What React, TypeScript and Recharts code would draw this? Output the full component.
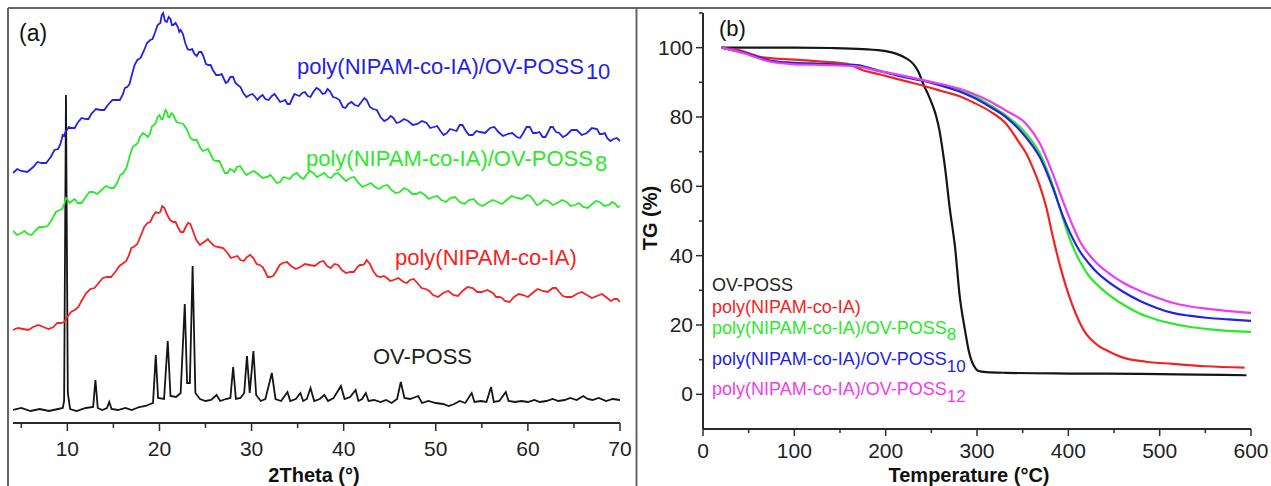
import React from 'react';
import { LineChart, Line, XAxis, YAxis } from 'recharts';

// XRD patterns, panel (a): [2theta, intensity (a.u., curves stacked)]
const xrdOvPoss: [number, number][] = [
  [4.1, 13], [5, 15], [6, 12], [7, 14], [8, 12], [9, 14], [9.5, 15], [9.65, 22], [9.85, 328], [10.05, 30], [10.3, 14],
  [11, 12], [12, 15], [12.8, 16], [13.05, 43], [13.3, 15], [13.8, 13], [14.3, 15], [14.55, 21], [14.8, 14], [15.5, 13],
  [16.3, 15], [17, 13], [17.8, 16], [18.5, 17], [19.0, 19], [19.3, 20], [19.6, 68], [19.85, 25], [20.5, 24], [20.9, 82],
  [21.2, 27], [21.8, 26], [22.3, 30], [22.75, 119], [23.0, 40], [23.3, 40], [23.6, 157], [23.9, 30], [24.4, 24],
  [25, 22], [25.6, 23], [26.2, 28], [26.6, 22], [27.2, 24], [27.7, 25], [28.0, 56], [28.3, 24], [28.8, 25], [29.2, 30],
  [29.5, 67], [29.8, 30], [30.2, 72], [30.5, 28], [31, 22], [31.5, 24], [32.2, 50], [32.6, 24], [33.2, 22], [33.9, 31],
  [34.2, 22], [34.8, 24], [35.3, 30], [35.6, 22], [36.0, 24], [36.4, 35], [36.8, 22], [37.4, 24], [37.9, 28], [38.3, 22],
  [38.9, 25], [39.7, 37], [40.1, 24], [40.7, 26], [41.3, 33], [41.6, 22], [42.0, 24], [42.4, 30], [42.7, 22], [43.3, 23],
  [44, 21], [44.6, 23], [45.2, 20], [45.8, 24], [46.2, 41], [46.6, 25], [47.2, 24], [48.1, 27], [48.5, 20], [49.2, 22],
  [50, 20], [50.8, 19], [51.4, 17], [52, 19], [52.6, 22], [53.2, 20], [53.9, 30], [54.2, 21], [54.9, 22], [55.5, 21],
  [56, 36], [56.3, 21], [56.9, 22], [57.6, 31], [57.9, 22], [58.6, 21], [59.3, 22], [60, 21], [60.7, 23], [61.3, 21],
  [62, 22], [62.7, 24], [63.3, 22], [64, 23], [64.6, 25], [65.3, 23], [66, 27], [66.5, 24], [67, 23], [67.7, 25],
  [68.5, 22], [69.2, 24], [70, 23],
];

const xrdCopolymer: [number, number][] = [
  [4.1, 93], [4.65, 95], [5.2, 94], [5.75, 93], [6.3, 96], [6.85, 98], [7.4, 96], [7.95, 94], [8.5, 96], [8.9, 100],
  [9.3, 100], [9.65, 101], [10.0, 106], [10.4, 111], [10.8, 113], [11.2, 116], [11.6, 123], [12.05, 130], [12.5, 134],
  [12.95, 135], [13.4, 140], [13.85, 145], [14.3, 146], [14.75, 146], [15.2, 151], [15.65, 157], [16.1, 160],
  [16.4, 162], [16.7, 168], [16.95, 175], [17.2, 176], [17.6, 179], [18.0, 188], [18.35, 196], [18.7, 200], [19.0, 201],
  [19.3, 207], [19.6, 211], [19.9, 210], [20.1, 211], [20.3, 217], [20.55, 215], [20.8, 209], [21.15, 203], [21.5, 201],
  [21.75, 201], [22.0, 196], [22.3, 191], [22.6, 191], [22.85, 196], [23.1, 200], [23.35, 199], [23.6, 193], [24.0, 183],
  [24.4, 178], [24.7, 180], [25.0, 182], [25.25, 184], [25.5, 181], [25.95, 177], [26.4, 176], [26.9, 175], [27.4, 170],
  [27.75, 165], [28.1, 166], [28.45, 167], [28.8, 163], [29.15, 162], [29.5, 166], [29.85, 168], [30.2, 165],
  [30.55, 159], [30.9, 158], [31.2, 156], [31.5, 151], [31.75, 146], [32.0, 146], [32.35, 147], [32.7, 152],
  [33.05, 158], [33.4, 160], [33.85, 161], [34.3, 157], [34.8, 154], [35.3, 156], [35.8, 159], [36.3, 158],
  [36.85, 157], [37.4, 161], [37.8, 162], [38.2, 157], [38.6, 155], [39.0, 159], [39.4, 158], [39.8, 153], [40.25, 150],
  [40.7, 151], [41.1, 151], [41.5, 156], [41.75, 158], [42.0, 158], [42.25, 159], [42.5, 163], [42.85, 159], [43.2, 152],
  [43.6, 147], [44.0, 146], [44.35, 147], [44.7, 145], [45.05, 142], [45.4, 143], [45.95, 145], [46.5, 141],
  [46.85, 140], [47.2, 143], [47.6, 144], [48.0, 140], [48.45, 135], [48.9, 134], [49.3, 132], [49.7, 128],
  [50.25, 126], [50.8, 130], [51.35, 132], [51.9, 128], [52.4, 127], [52.9, 132], [53.45, 136], [54.0, 135],
  [54.5, 131], [55.0, 131], [55.6, 133], [56.2, 130], [56.55, 126], [56.9, 126], [57.2, 125], [57.5, 122], [58.0, 121],
  [58.5, 126], [59.0, 129], [59.5, 128], [60.0, 126], [60.5, 130], [61.05, 134], [61.6, 132], [62.15, 131], [62.7, 135],
  [63.05, 135], [63.4, 131], [63.8, 127], [64.2, 126], [64.75, 126], [65.3, 129], [65.85, 131], [66.4, 128],
  [66.95, 125], [67.5, 127], [68.05, 129], [68.6, 125], [69.0, 122], [69.4, 124], [69.7, 124], [70, 121],
];

const xrdPoss8: [number, number][] = [
  [4.1, 192], [4.55, 188], [5.0, 190], [5.35, 192], [5.7, 189], [6.1, 188], [6.5, 192], [6.95, 196], [7.4, 196],
  [7.85, 197], [8.3, 203], [8.75, 211], [9.2, 213], [9.45, 214], [9.7, 220], [9.85, 225], [10.0, 224], [10.25, 220],
  [10.5, 222], [10.8, 224], [11.1, 220], [11.55, 220], [12.0, 226], [12.4, 231], [12.8, 231], [13.25, 229], [13.7, 233],
  [14.2, 237], [14.7, 235], [15.05, 235], [15.4, 240], [15.75, 248], [16.1, 250], [16.45, 256], [16.8, 268], [17.1, 276],
  [17.4, 278], [17.65, 280], [17.9, 286], [18.2, 290], [18.5, 288], [18.75, 286], [19.0, 290], [19.2, 297], [19.4, 298],
  [19.6, 300], [19.8, 306], [20.0, 308], [20.2, 304], [20.35, 304], [20.5, 309], [20.65, 313], [20.8, 311], [20.95, 306],
  [21.1, 306], [21.3, 310], [21.5, 308], [21.85, 301], [22.2, 300], [22.6, 299], [23.0, 293], [23.35, 285], [23.7, 283],
  [24.05, 283], [24.4, 276], [24.7, 272], [25.0, 273], [25.25, 274], [25.5, 270], [25.85, 263], [26.2, 262], [26.5, 262],
  [26.8, 256], [27.1, 250], [27.4, 250], [27.65, 254], [27.9, 253], [28.15, 251], [28.4, 256], [28.75, 257], [29.1, 252],
  [29.45, 248], [29.8, 250], [30.25, 252], [30.7, 249], [31.2, 245], [31.7, 246], [32.05, 248], [32.4, 244], [32.75, 240],
  [33.1, 241], [33.45, 246], [33.8, 245], [34.15, 244], [34.5, 248], [34.9, 250], [35.3, 246], [35.65, 244], [36.0, 249],
  [36.35, 252], [36.7, 250], [37.1, 246], [37.5, 248], [37.9, 250], [38.3, 246], [38.65, 245], [39.0, 249], [39.4, 250],
  [39.8, 246], [40.25, 242], [40.7, 245], [41.15, 246], [41.6, 240], [42.05, 236], [42.5, 238], [42.95, 240], [43.4, 236],
  [43.85, 234], [44.3, 237], [44.75, 238], [45.2, 233], [45.65, 230], [46.1, 231], [46.55, 235], [47.0, 233], [47.45, 229],
  [47.9, 229], [48.35, 231], [48.8, 228], [49.25, 224], [49.7, 226], [50.15, 227], [50.6, 223], [51.1, 221], [51.6, 225],
  [52.1, 226], [52.6, 221], [53.1, 219], [53.6, 223], [54.1, 224], [54.6, 219], [55.1, 217], [55.6, 220], [56.15, 223],
  [56.7, 221], [57.2, 219], [57.7, 223], [58.25, 227], [58.8, 225], [59.35, 224], [59.9, 228], [60.25, 227], [60.6, 223],
  [60.95, 218], [61.3, 219], [61.75, 223], [62.2, 222], [62.7, 218], [63.2, 220], [63.7, 223], [64.2, 221], [64.65, 217],
  [65.1, 218], [65.55, 220], [66.0, 216], [66.5, 215], [67.0, 219], [67.4, 222], [67.8, 221], [68.3, 217], [68.8, 218],
  [69.15, 221], [69.5, 219], [69.75, 216], [70, 217],
];

const xrdPoss10: [number, number][] = [
  [4.1, 250], [4.55, 254], [5.0, 252], [5.65, 251], [6.3, 256], [6.75, 261], [7.2, 260], [7.7, 260], [8.2, 266],
  [8.6, 273], [9.0, 274], [9.25, 279], [9.5, 288], [9.65, 287], [9.8, 291], [10.15, 296], [10.5, 295], [10.8, 295],
  [11.1, 300], [11.55, 305], [12.0, 304], [12.3, 304], [12.6, 309], [13.1, 314], [13.6, 313], [14.0, 313], [14.4, 318],
  [14.9, 323], [15.4, 323], [15.7, 323], [16.0, 328], [16.25, 335], [16.5, 336], [16.75, 339], [17.0, 348], [17.3, 358],
  [17.6, 363], [17.95, 365], [18.3, 372], [18.65, 380], [19.0, 383], [19.25, 384], [19.5, 390], [19.8, 398], [20.1, 400],
  [20.25, 408], [20.4, 410], [20.6, 402], [20.8, 401], [21.0, 406], [21.2, 404], [21.35, 398], [21.5, 398], [21.75, 400],
  [22.0, 396], [22.15, 391], [22.3, 393], [22.55, 389], [22.8, 380], [23.05, 374], [23.3, 373], [23.55, 374], [23.8, 369],
  [24.05, 367], [24.3, 371], [24.55, 371], [24.8, 366], [25.05, 359], [25.3, 358], [25.55, 358], [25.8, 353], [26.15, 348],
  [26.5, 348], [26.75, 349], [27.0, 344], [27.2, 340], [27.4, 341], [27.7, 346], [28.0, 346], [28.25, 340], [28.5, 338],
  [28.8, 336], [29.1, 330], [29.45, 326], [29.8, 328], [30.1, 329], [30.4, 326], [30.65, 323], [30.9, 326], [31.2, 328],
  [31.5, 324], [31.85, 323], [32.2, 327], [32.5, 329], [32.8, 325], [33.1, 321], [33.4, 322], [33.65, 323], [33.9, 319],
  [34.15, 319], [34.4, 324], [34.65, 329], [34.9, 328], [35.2, 327], [35.5, 330], [35.8, 331], [36.1, 327], [36.4, 326],
  [36.7, 331], [37.05, 335], [37.4, 333], [37.7, 329], [38.0, 330], [38.25, 334], [38.5, 332], [38.85, 326], [39.2, 325],
  [39.55, 323], [39.9, 316], [40.2, 315], [40.5, 319], [40.85, 321], [41.2, 318], [41.6, 317], [42.0, 322], [42.25, 325],
  [42.5, 323], [42.85, 316], [43.2, 314], [43.6, 313], [44.0, 306], [44.4, 302], [44.8, 304], [45.1, 307], [45.4, 305],
  [45.75, 300], [46.1, 301], [46.55, 304], [47.0, 302], [47.5, 298], [48.0, 299], [48.5, 302], [49.0, 300], [49.4, 295],
  [49.8, 296], [50.15, 297], [50.5, 292], [50.85, 288], [51.2, 290], [51.55, 294], [51.9, 293], [52.25, 292], [52.6, 298],
  [52.9, 298], [53.2, 293], [53.6, 288], [54.0, 288], [54.4, 292], [54.8, 291], [55.35, 290], [55.9, 295], [56.35, 296],
  [56.8, 291], [57.3, 287], [57.8, 289], [58.3, 290], [58.8, 286], [59.15, 285], [59.5, 290], [59.85, 296], [60.2, 296],
  [60.55, 290], [60.9, 290], [61.25, 291], [61.6, 286], [61.9, 286], [62.2, 291], [62.45, 296], [62.7, 296], [63.05, 291],
  [63.4, 290], [63.8, 286], [64.2, 288], [64.75, 293], [65.3, 293], [65.85, 288], [66.4, 290], [66.95, 295], [67.5, 294],
  [67.8, 289], [68.1, 289], [68.35, 290], [68.6, 285], [68.95, 282], [69.3, 284], [69.65, 285], [70, 282],
];

// TGA curves, panel (b): [temperature °C, TG %]
const tgOvPoss: [number, number][] = [
  [20, 100], [60, 100], [100, 100], [140, 99.9], [175, 99.6], [200, 99], [212, 98.2], [222, 97], [230, 95.4],
  [236, 93], [241, 89.6], [246, 86.8], [250, 84.3], [255, 80.5], [259, 76], [262, 71], [265, 65.4], [270, 54],
  [276, 42.3], [281, 28.5], [287, 18.3], [291, 12.5], [294, 9.7], [298, 7.6], [301, 6.8], [310, 6.4], [332, 6.2],
  [400, 6], [480, 5.9], [540, 5.7], [595, 5.5],
];
const tgCopolymer: [number, number][] = [
  [20, 100], [40, 99.2], [66, 97.2], [103, 96.5], [130, 96], [157, 95.4], [175, 93.5], [195, 92.2], [212, 91],
  [230, 89.8], [248, 88.5], [265, 87.2], [281, 86], [296, 84.2], [315, 81.5], [332, 78], [347, 72.3], [355, 69],
  [361, 65.4], [369, 60], [376, 53.8], [383, 45.5], [390, 38], [397, 31.5], [404, 26], [411, 21.5], [418, 18],
  [425, 15.8], [433, 14], [445, 12.3], [460, 10.6], [485, 9.4], [514, 8.8], [550, 8.1], [593, 7.7],
];
const tgPoss8: [number, number][] = [
  [20, 100], [45, 98.4], [73, 96.2], [100, 95.6], [130, 95.3], [168, 95], [190, 93.6], [212, 92.2], [230, 91.2],
  [248, 90.2], [259, 89.5], [280, 87.9], [296, 86.1], [315, 83.3], [332, 80.4], [354, 75.1], [369, 69.4],
  [383, 60.2], [392, 52.5], [400, 46], [408, 40.8], [416, 36.8], [423, 34], [432, 31.5], [442, 29.2],
  [460, 25.9], [478, 23.3], [496, 21.6], [514, 20.4], [532, 19.5], [551, 18.9], [575, 18.3], [600, 18],
];
const tgPoss10: [number, number][] = [
  [20, 100], [45, 98.6], [73, 96.3], [100, 95.6], [130, 95.3], [168, 95], [190, 93.5], [212, 92], [230, 91],
  [248, 90], [259, 89.2], [280, 87.4], [296, 85.6], [315, 82.8], [332, 79.9], [354, 74], [369, 68.3], [383, 59.6],
  [394, 51.5], [402, 46.5], [412, 41.5], [423, 37.6], [432, 35], [442, 32.8], [460, 29.6], [478, 27], [496, 25],
  [514, 23.5], [532, 22.7], [551, 22.1], [575, 21.6], [600, 21.2],
];
const tgPoss12: [number, number][] = [
  [20, 100], [45, 98.4], [73, 96], [100, 95.2], [130, 95], [168, 94.6], [190, 93.4], [212, 92.3], [230, 91.3],
  [248, 90.2], [259, 89.6], [280, 88.2], [296, 86.7], [315, 84.4], [332, 81.8], [354, 78], [369, 72.3], [383, 63.6],
  [394, 55.8], [405, 48.5], [414, 43.5], [423, 40.2], [432, 37.6], [442, 35.4], [460, 32.2], [478, 29.9], [496, 28],
  [514, 26.4], [532, 25.4], [551, 24.7], [575, 24], [600, 23.5],
];

const xrdTicks = [5, 10, 15, 20, 25, 30, 35, 40, 45, 50, 55, 60, 65, 70];
const tempTicks = [0, 50, 100, 150, 200, 250, 300, 350, 400, 450, 500, 550, 600];
const tgTicks = [0, 10, 20, 30, 40, 50, 60, 70, 80, 90, 100, 110];

const FONT = '"Liberation Sans", Arial, Helvetica, sans-serif';
const AXIS = '#2b2b2b';
const BLACK = '#151515';
const RED = '#f42323';
const GREEN = '#2be82b';
const BLUE = '#2323e6';
const MAGENTA = '#f03cf0';

const pts = (arr: [number, number][]) => arr.map(([x, y]) => ({ x, y }));

const XrdTick = (props: any) => {
  const { x, y, payload } = props;
  const major = payload.value % 10 === 0;
  return (
    <g>
      <line x1={x} y1={y} x2={x} y2={y + (major ? 8 : 5)} stroke={AXIS} strokeWidth={1.5} />
      {major && (
        <text x={x} y={y + 33} textAnchor="middle" fontSize={21} fill="#222">{payload.value}</text>
      )}
    </g>
  );
};

const TempTick = (props: any) => {
  const { x, y, payload } = props;
  const major = payload.value % 100 === 0;
  return (
    <g>
      <line x1={x} y1={y} x2={x} y2={y + (major ? 7 : 4)} stroke={AXIS} strokeWidth={1.5} />
      {major && (
        <text x={x} y={y + 29} textAnchor="middle" fontSize={21} fill="#222">{payload.value}</text>
      )}
    </g>
  );
};

const TgTick = (props: any) => {
  const { x, y, payload } = props;
  const major = payload.value % 20 === 0 && payload.value <= 100;
  return (
    <g>
      <line x1={x} y1={y} x2={x - (major ? 7 : 4)} y2={y} stroke={AXIS} strokeWidth={1.5} />
      {major && (
        <text x={x - 10} y={y + 7} textAnchor="end" fontSize={21} fill="#222">{payload.value}</text>
      )}
    </g>
  );
};

const xrdSeries = [
  { name: 'OV-POSS', data: xrdOvPoss, color: BLACK },
  { name: 'poly(NIPAM-co-IA)', data: xrdCopolymer, color: RED },
  { name: 'poly(NIPAM-co-IA)/OV-POSS8', data: xrdPoss8, color: GREEN },
  { name: 'poly(NIPAM-co-IA)/OV-POSS10', data: xrdPoss10, color: BLUE },
];

const tgSeries = [
  { name: 'OV-POSS', data: tgOvPoss, color: BLACK },
  { name: 'poly(NIPAM-co-IA)', data: tgCopolymer, color: RED },
  { name: 'poly(NIPAM-co-IA)/OV-POSS8', data: tgPoss8, color: GREEN },
  { name: 'poly(NIPAM-co-IA)/OV-POSS10', data: tgPoss10, color: BLUE },
  { name: 'poly(NIPAM-co-IA)/OV-POSS12', data: tgPoss12, color: MAGENTA },
];

export default function App() {
  return (
    <div style={{ position: 'absolute', left: 0, top: 0, width: 1271, height: 486, background: '#fff', fontFamily: FONT, overflow: 'hidden' }}>
      <div style={{ position: 'absolute', left: 0, top: 0 }}>
        <LineChart width={636} height={486} margin={{ top: 10, right: 16, bottom: 33, left: 13 }}>
          <XAxis
            type="number"
            dataKey="x"
            domain={[4.1, 70]}
            allowDataOverflow
            ticks={xrdTicks}
            interval={0}
            tickSize={0}
            tickMargin={0}
            tickLine={false}
            tick={(p: any) => <XrdTick {...p} />}
            axisLine={{ stroke: AXIS, strokeWidth: 2 }}
            height={30}
          />
          <YAxis hide type="number" domain={[0, 413]} />
          {xrdSeries.map((s) => (
            <Line
              key={s.name}
              data={pts(s.data)}
              dataKey="y"
              type="linear"
              stroke={s.color}
              strokeWidth={1.8}
              dot={false}
              isAnimationActive={false}
            />
          ))}
        </LineChart>
      </div>

      <div style={{ position: 'absolute', left: 636, top: 0 }}>
        <LineChart width={635} height={486} margin={{ top: 13, right: 20, bottom: 27, left: 0 }}>
          <XAxis
            type="number"
            dataKey="x"
            domain={[0, 600]}
            ticks={tempTicks}
            interval={0}
            tickSize={0}
            tickMargin={0}
            tickLine={false}
            tick={(p: any) => <TempTick {...p} />}
            axisLine={{ stroke: AXIS, strokeWidth: 2 }}
            height={30}
          />
          <YAxis
            type="number"
            domain={[-10, 110]}
            ticks={tgTicks}
            interval={0}
            width={67}
            tickSize={0}
            tickMargin={0}
            tickLine={false}
            tick={(p: any) => <TgTick {...p} />}
            axisLine={{ stroke: AXIS, strokeWidth: 2 }}
          />
          {tgSeries.map((s) => (
            <Line
              key={s.name}
              data={pts(s.data)}
              dataKey="y"
              type="monotone"
              stroke={s.color}
              strokeWidth={2.2}
              dot={false}
              isAnimationActive={false}
            />
          ))}
        </LineChart>
      </div>

      <svg width={1271} height={486} style={{ position: 'absolute', left: 0, top: 0, pointerEvents: 'none' }}>
        <line x1={8} y1={8} x2={1271} y2={8} stroke="#666" strokeWidth={2} />
        <line x1={8} y1={8} x2={8} y2={486} stroke="#666" strokeWidth={2} />
        <line x1={636.5} y1={8} x2={636.5} y2={486} stroke="#666" strokeWidth={2} />

        <text x={19} y={41} fontSize={23} fill="#111">(a)</text>
        <text x={297} y={74} fontSize={22} fill={BLUE}>
          poly(NIPAM-co-IA)/OV-POSS<tspan dx={2} dy={5}>10</tspan>
        </text>
        <text x={306} y={166} fontSize={22} fill={GREEN}>
          poly(NIPAM-co-IA)/OV-POSS<tspan dx={2} dy={5}>8</tspan>
        </text>
        <text x={395} y={265} fontSize={22} fill={RED}>poly(NIPAM-co-IA)</text>
        <text x={373} y={364} fontSize={22} fill="#222">OV-POSS</text>
        <text x={314} y={482} fontSize={20} fontWeight="bold" textAnchor="middle" fill="#111">2Theta (°)</text>

        <text x={719} y={36} fontSize={22} fill="#111">(b)</text>
        <text transform="translate(657, 218) rotate(-90)" fontSize={20} fontWeight="bold" textAnchor="middle" fill="#111">TG (%)</text>
        <text x={969} y={482} fontSize={20} fontWeight="bold" textAnchor="middle" fill="#111">Temperature (°C)</text>

        <text x={712} y={291} fontSize={18} fill="#222">OV-POSS</text>
        <text x={712} y={313} fontSize={18} fill={RED}>poly(NIPAM-co-IA)</text>
        <text x={712} y={334} fontSize={18} fill={GREEN}>
          poly(NIPAM-co-IA)/OV-POSS<tspan dy={6} fontSize={17}>8</tspan>
        </text>
        <text x={712} y={365} fontSize={18} fill={BLUE}>
          poly(NIPAM-co-IA)/OV-POSS<tspan dy={7} fontSize={17}>10</tspan>
        </text>
        <text x={712} y={395} fontSize={18} fill={MAGENTA}>
          poly(NIPAM-co-IA)/OV-POSS<tspan dy={7} fontSize={17}>12</tspan>
        </text>
      </svg>
    </div>
  );
}
